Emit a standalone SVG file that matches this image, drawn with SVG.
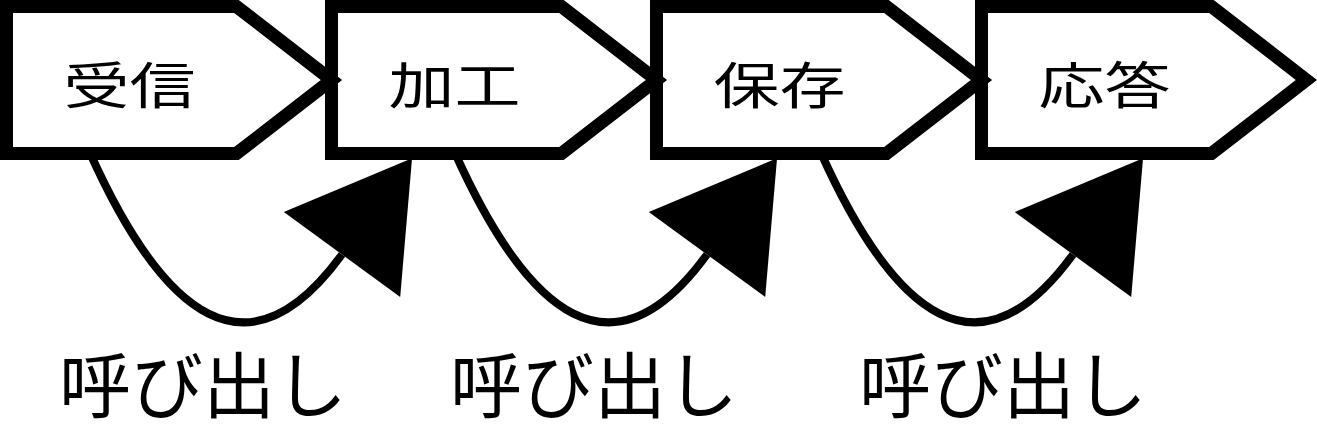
<svg xmlns="http://www.w3.org/2000/svg" width="1317" height="436" viewBox="0 0 1317 436">
<style>
.box{fill:#fff;stroke:#000;stroke-width:13;stroke-linejoin:miter;stroke-miterlimit:10}
.lbl{font-family:"Noto Sans CJK JP","Noto Sans",sans-serif;font-size:50px;fill:#000}
.call{font-family:"Noto Sans CJK JP","Noto Sans",sans-serif;font-size:72px;fill:#000;text-anchor:middle}
.edge{fill:none;stroke:#000;stroke-width:8}
</style>
<defs>
<marker id="ah" markerUnits="userSpaceOnUse" markerWidth="240" markerHeight="240" refX="0" refY="0" orient="auto" overflow="visible" viewBox="-120 -120 240 240">
<path d="M0,-72 L119,0 L0,72 Z" fill="#000"/>
</marker>
</defs>
<rect width="1317" height="436" fill="#fff"/>
<g id="node-oto">
<path class="box" d="M981.5,6.5 H1211.5 L1306.5,80 L1211.5,153.5 H981.5 Z"/>
<text class="lbl" x="1038.5" y="104" textLength="132" lengthAdjust="spacingAndGlyphs">応答</text>
</g>
<g id="node-hozon">
<path class="box" d="M656.5,6.5 H886.5 L981.5,80 L886.5,153.5 H656.5 Z"/>
<text class="lbl" x="713.5" y="104" textLength="132" lengthAdjust="spacingAndGlyphs">保存</text>
</g>
<g id="node-kako">
<path class="box" d="M331.5,6.5 H561.5 L656.5,80 L561.5,153.5 H331.5 Z"/>
<text class="lbl" x="388.5" y="104" textLength="132" lengthAdjust="spacingAndGlyphs">加工</text>
</g>
<g id="node-jushin">
<path class="box" d="M6.5,6.5 H236.5 L331.5,80 L236.5,153.5 H6.5 Z"/>
<text class="lbl" x="63.5" y="104" textLength="132" lengthAdjust="spacingAndGlyphs">受信</text>
</g>
<g id="connectors">
<path class="edge" marker-end="url(#ah)" d="M90,153 C163.8,316.8 248,383.6 342,254.5"/>
<path class="edge" marker-end="url(#ah)" d="M455,153 C528.8,316.8 613,383.6 707,254.5"/>
<path class="edge" marker-end="url(#ah)" d="M821,153 C894.8,316.8 979,383.6 1073,254.5"/>
<text class="call" x="203" y="412">呼び出し</text>
<text class="call" x="594" y="412">呼び出し</text>
<text class="call" x="1003" y="412">呼び出し</text>
</g>
</svg>
